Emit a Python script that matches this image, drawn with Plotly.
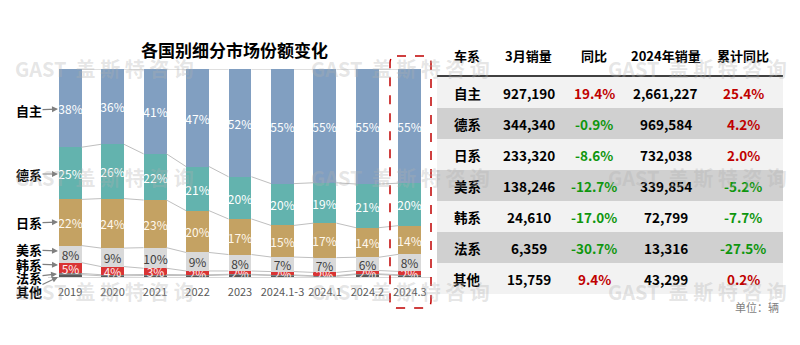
import plotly.graph_objects as go

W, H = 800, 345

# ---------------- data ----------------
categories = ["2019", "2020", "2021", "2022", "2023", "2024.1-3", "2024.1", "2024.2", "2024.3"]
series_names = ["自主", "德系", "日系", "美系", "韩系", "法系", "其他"]
share_zizhu = [37.6, 36.2, 40.8, 46.9, 51.8, 55.1, 54.7, 55.3, 54.9]
share_dexi = [25.1, 26.1, 22.2, 21.2, 20.3, 20.1, 19.4, 21.0, 20.4]
share_rixi = [22.2, 23.8, 22.9, 20.1, 17.1, 15.2, 16.6, 14.2, 13.8]
share_meixi = [8.2, 8.9, 9.9, 8.9, 7.9, 7.0, 7.1, 6.4, 8.2]
share_hanxi = [5.2, 3.9, 3.0, 1.8, 1.6, 1.6, 1.6, 1.6, 1.6]
share_faxi = [0.6, 0.5, 0.5, 0.4, 0.3, 0.3, 0.3, 0.3, 0.4]
share_qita = [1.1, 0.6, 0.7, 0.7, 1.0, 0.7, 0.3, 1.2, 0.7]

tbl_header = ["车系", "3月销量", "同比", "2024年销量", "累计同比"]
tbl_brand = ["自主", "德系", "日系", "美系", "韩系", "法系", "其他"]
tbl_mar_sales = [927190, 344340, 233320, 138246, 24610, 6359, 15759]
tbl_mar_yoy = [19.4, -0.9, -8.6, -12.7, -17.0, -30.7, 9.4]
tbl_ytd_sales = [2661227, 969584, 732038, 339854, 72799, 13316, 43299]
tbl_ytd_yoy = [25.4, 4.2, 2.0, -5.2, -7.7, -27.5, 0.2]

# ---------------- styles ----------------
FONT = "Noto Sans CJK SC"
colors = {"自主": "#819FC1", "德系": "#63B3AE", "日系": "#C4A263", "美系": "#D9D9D9",
          "韩系": "#D93434", "法系": "#7F7F7F", "其他": "#595959"}
text_colors = {"自主": "#FFFFFF", "德系": "#FFFFFF", "日系": "#FFF8EC", "美系": "#404040",
               "韩系": "#FFECEC", "法系": "#FFFFFF", "其他": "#FFFFFF"}
show_label = {"自主": True, "德系": True, "日系": True, "美系": True, "韩系": True,
              "法系": False, "其他": False}
shares = {"自主": share_zizhu, "德系": share_dexi, "日系": share_rixi, "美系": share_meixi,
          "韩系": share_hanxi, "法系": share_faxi, "其他": share_qita}


def px(x):
    return x / W


def py(y):
    return 1 - y / H


xpos = list(range(len(categories)))
BAR_W = 0.54

fig = go.Figure()

# stacked bars, bottom first
stack_order = ["其他", "法系", "韩系", "美系", "日系", "德系", "自主"]
for name in stack_order:
    fig.add_trace(go.Bar(
        x=xpos, y=shares[name], name=name, width=BAR_W,
        marker=dict(color=colors[name], line=dict(width=0)),
        texttemplate="%{y:.0f}%" if show_label[name] else None,
        textposition="inside" if show_label[name] else "none",
        insidetextanchor="middle", textangle=0,
        textfont=dict(family=FONT, size=12, color=text_colors[name]),
        showlegend=False, hoverinfo="skip",
    ))

# series lines between bars (connect segment boundaries)
cum = [0.0] * len(categories)
for name in stack_order:
    cum = [c + v for c, v in zip(cum, shares[name])]
    lx, ly = [], []
    for i in range(len(categories) - 1):
        lx += [i + BAR_W / 2, i + 1 - BAR_W / 2, None]
        ly += [cum[i], cum[i + 1], None]
    fig.add_trace(go.Scatter(x=lx, y=ly, mode="lines",
                             line=dict(color="#BFBFBF", width=1),
                             showlegend=False, hoverinfo="skip"))

annotations = []
shapes = []

# ---------------- table (drawn with shapes + annotations) ----------------
def pct(v):
    return f"{v:.1f}%"


def pcol(v):
    return "#C00000" if v >= 0 else "#0E960E"


TBL_X0, TBL_X1 = 437, 783
col_edges = [437, 497, 560, 628, 703, 783]
col_centers = [(col_edges[i] + col_edges[i + 1]) / 2 for i in range(5)]
HEADER_Y = 55
ROW_Y0, ROW_H = 77, 31

for j, h in enumerate(tbl_header):
    annotations.append(dict(x=px(col_centers[j]), y=py(HEADER_Y), xref="paper", yref="paper",
                            text=f"<b>{h}</b>", showarrow=False, xanchor="center", yanchor="middle",
                            font=dict(family=FONT, size=13, color="#000000")))

columns = [
    ([f"<b>{b}</b>" for b in tbl_brand], ["#000000"] * 7),
    ([f"<b>{v:,}</b>" for v in tbl_mar_sales], ["#000000"] * 7),
    ([f"<b>{pct(v)}</b>" for v in tbl_mar_yoy], [pcol(v) for v in tbl_mar_yoy]),
    ([f"<b>{v:,}</b>" for v in tbl_ytd_sales], ["#000000"] * 7),
    ([f"<b>{pct(v)}</b>" for v in tbl_ytd_yoy], [pcol(v) for v in tbl_ytd_yoy]),
]
for i in range(len(tbl_brand)):
    top = ROW_Y0 + i * ROW_H
    shapes.append(dict(type="rect", xref="paper", yref="paper", layer="below",
                       x0=px(TBL_X0), x1=px(TBL_X1), y0=py(top), y1=py(top + ROW_H),
                       fillcolor="#F2F2F2" if i % 2 == 0 else "#D0D0D0", line=dict(width=0)))
    for j, (texts, cols) in enumerate(columns):
        annotations.append(dict(x=px(col_centers[j]), y=py(top + ROW_H / 2), xref="paper",
                                yref="paper", text=texts[i], showarrow=False,
                                xanchor="center", yanchor="middle",
                                font=dict(family=FONT, size=13.5, color=cols[i])))

shapes.append(dict(type="line", xref="paper", yref="paper",
                   x0=px(TBL_X0), x1=px(TBL_X1), y0=py(76), y1=py(76),
                   line=dict(color="#404040", width=2)))

# title
annotations.append(dict(x=px(234), y=py(49), xref="paper", yref="paper",
                        text="<b>各国别细分市场份额变化</b>", showarrow=False,
                        xanchor="center", yanchor="middle",
                        font=dict(family=FONT, size=17, color="#000000")))
# left labels with arrows
left_labels = [("自主", 110, 58, 109), ("德系", 174, 58, 174), ("日系", 223, 58, 222),
               ("美系", 250, 58, 251), ("韩系", 264, 58, 265), ("法系", 277, 57, 274),
               ("其他", 291, 58, 277)]
for name, ty, tipx, tipy in left_labels:
    annotations.append(dict(x=px(tipx), y=py(tipy), xref="paper", yref="paper",
                            text=f"<b>{name}</b>", showarrow=True,
                            ax=29 - tipx, ay=ty - tipy,
                            arrowhead=2, arrowsize=1, arrowwidth=1.2,
                            arrowcolor="#7F7F7F", borderpad=0,
                            font=dict(family=FONT, size=13, color="#000000")))
# unit
annotations.append(dict(x=px(781), y=py(307), xref="paper", yref="paper",
                        text="单位：辆", showarrow=False, xanchor="right", yanchor="middle",
                        font=dict(family=FONT, size=11, color="#7F7F7F")))
# watermarks
for wy in (68, 177, 291):
    for wx in (104, 400, 697):
        annotations.append(dict(x=px(wx), y=py(wy), xref="paper", yref="paper",
                                text="<b>GAST  盖 斯 特 咨 询</b>", showarrow=False,
                                xanchor="center", yanchor="middle",
                                font=dict(family=FONT, size=20,
                                          color="rgba(175,175,175,0.32)")))

# dashed rounded box around last bar
x0, x1, y0, y1, r = 390, 431, 56, 308, 7
path = (f"M {px(x0 + r)} {py(y0)} L {px(x1 - r)} {py(y0)} "
        f"Q {px(x1)} {py(y0)} {px(x1)} {py(y0 + r)} "
        f"L {px(x1)} {py(y1 - r)} Q {px(x1)} {py(y1)} {px(x1 - r)} {py(y1)} "
        f"L {px(x0 + r)} {py(y1)} Q {px(x0)} {py(y1)} {px(x0)} {py(y1 - r)} "
        f"L {px(x0)} {py(y0 + r)} Q {px(x0)} {py(y0)} {px(x0 + r)} {py(y0)} Z")
shapes.append(dict(type="path", xref="paper", yref="paper", path=path,
                   line=dict(color="#C00000", width=1.5, dash="dash")))

fig.update_layout(
    width=W, height=H, margin=dict(l=0, r=0, t=0, b=0),
    paper_bgcolor="white", plot_bgcolor="white",
    barmode="stack", bargap=0,
    uniformtext=dict(minsize=12, mode="show"),
    xaxis=dict(domain=[px(48), px(432)], range=[-0.52, 8.52],
               tickvals=xpos, ticktext=categories, showgrid=False, zeroline=False,
               showline=True, linecolor="#D9D9D9", linewidth=1, ticks="", tickangle=0,
               ticklabelstandoff=5,
               tickfont=dict(family=FONT, size=11, color="#595959")),
    yaxis=dict(domain=[py(277), py(69)], range=[0, 100], visible=False,
               showgrid=False, zeroline=False),
    annotations=annotations, shapes=shapes,
)

fig.write_html("out.html")
